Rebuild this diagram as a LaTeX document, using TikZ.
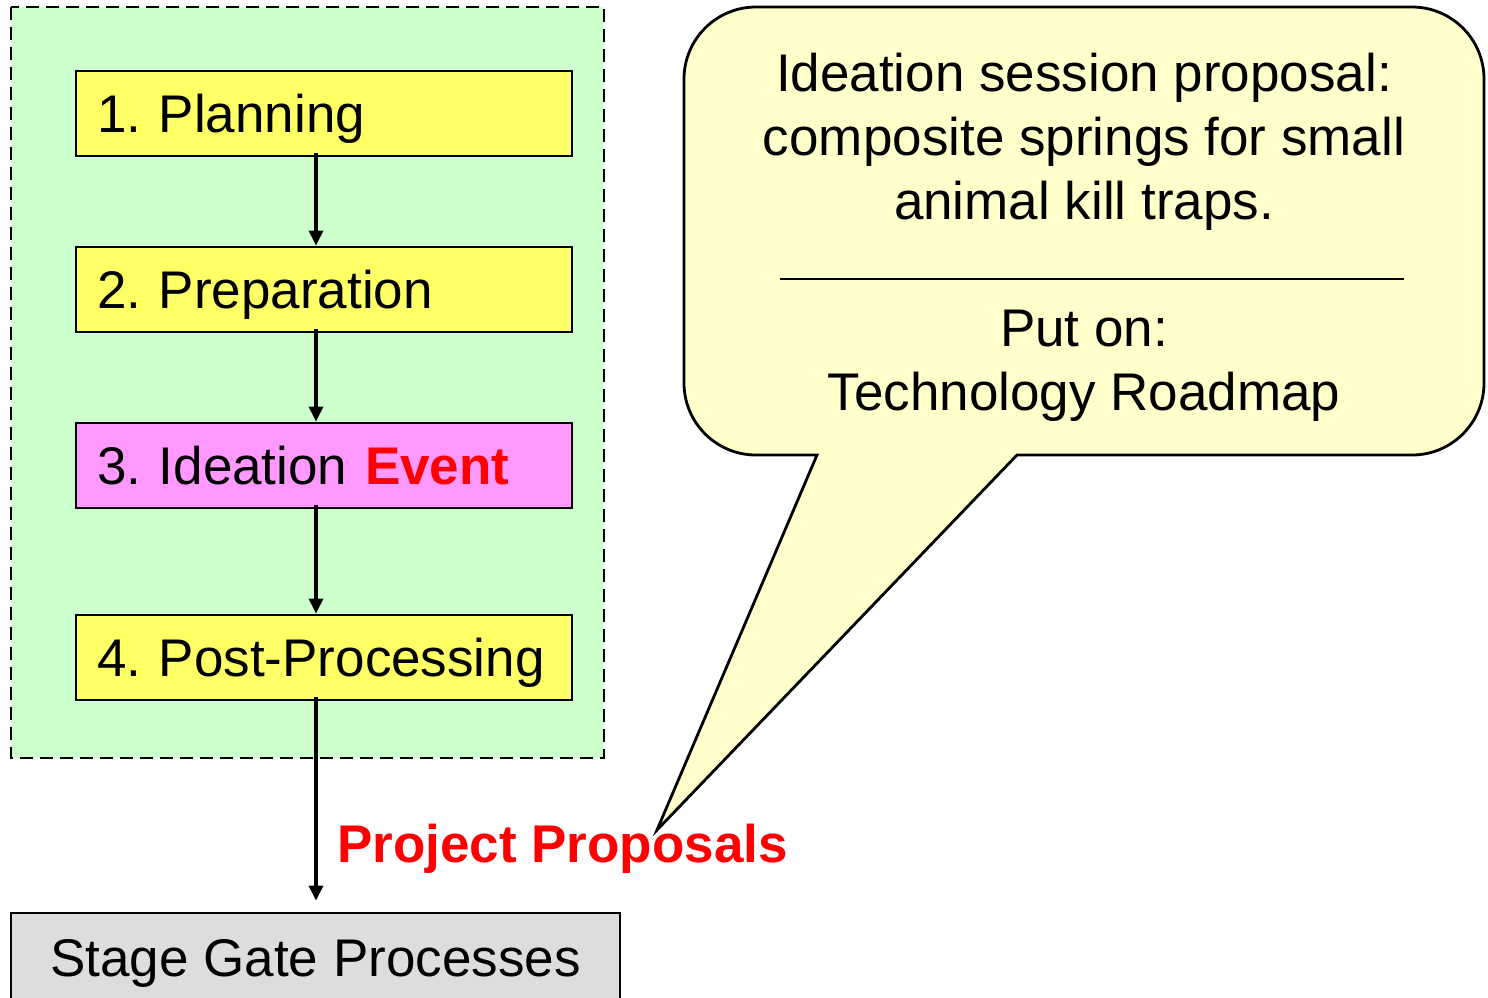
\documentclass[tikz,border=0pt]{standalone}
\usepackage{fontspec}
\setmainfont{Liberation Sans}
\usetikzlibrary{arrows.meta}
\frenchspacing

\definecolor{zonegreen}{HTML}{CCFFCC}
\definecolor{stepyellow}{HTML}{FFFF66}
\definecolor{steppink}{HTML}{FF99FF}
\definecolor{gatebg}{HTML}{DDDDDD}
\definecolor{notebg}{HTML}{FFFFCC}
\definecolor{hotred}{HTML}{FF0000}

\tikzset{
  big/.style={font=\fontsize{53}{63.6}\selectfont},
  stepbox/.style={big, draw=black, line width=2.8pt, minimum width=496pt,
    minimum height=85pt, inner xsep=21pt, inner ysep=0pt,
    text width=454pt, align=left, text height=38pt, text depth=0pt},
  flow/.style={line width=3.2pt, -{Triangle[width=14pt,length=15pt]}},
}

\begin{document}
\begin{tikzpicture}[x=1pt,y=-1pt]
  \useasboundingbox (0,0) rectangle (1488,997);
  \clip (0,0) rectangle (1488,997);

  % process zone
  \draw[fill=zonegreen, line width=2.2pt, dash pattern=on 13pt off 7pt]
    (11,7) rectangle (604,758);

  % process steps
  \node[stepbox, fill=stepyellow] (s1) at (324,113.5) {1. Planning};
  \node[stepbox, fill=stepyellow] (s2) at (324,289.5) {2. Preparation};
  \node[stepbox, fill=steppink]   (s3) at (324,465.5) {3. Ideation \textcolor{hotred}{\textbf{Event}}};
  \node[stepbox, fill=stepyellow] (s4) at (324,657.5) {4. Post-Processing};

  % downstream process
  \node[big, draw=black, line width=2.8pt, fill=gatebg, minimum width=609pt,
        minimum height=88pt, inner sep=0pt, text height=38pt, text depth=0pt]
        (sg) at (315.5,957) {Stage Gate Processes};

  % flow spine
  \coordinate (spine) at (316,0);
  \draw[flow, shorten <=-4pt] (s1.south -| spine) -- (s2.north -| spine);
  \draw[flow, shorten <=-4pt] (s2.south -| spine) -- (s3.north -| spine);
  \draw[flow, shorten <=-4pt] (s3.south -| spine) -- (s4.north -| spine);
  \draw[flow, shorten <=-4pt, shorten >=11pt] (s4.south -| spine) -- (sg.north -| spine);

  \node[font=\fontsize{53}{63.6}\selectfont\bfseries, text=hotred, anchor=west,
        inner sep=0pt, text height=38pt, text depth=0pt] (pp) at (337,843)
        {Project Proposals};

  % speech balloon
  \draw[fill=notebg, line width=2.8pt, line join=miter]
    (817,455) -- (657,830) -- (1017,455) -- (1412,455)
    arc[start angle=90, end angle=0, radius=72] -- (1484,79)
    arc[start angle=0, end angle=-90, radius=72] -- (756,7)
    arc[start angle=-90, end angle=-180, radius=72] -- (684,383)
    arc[start angle=180, end angle=90, radius=72] -- cycle;

  % balloon text (base anchor sits on the last line)
  \node[big, align=center, anchor=base, inner sep=0pt] (note1) at (1084,219)
    {Ideation session proposal:\\composite springs for small\\animal kill traps.};
  \coordinate (ruleL) at (780,279);
  \coordinate (ruleR) at (1404,279);
  \draw[line width=2.2pt] (ruleL) -- (ruleR);
  \node[big, align=center, anchor=base, inner sep=0pt] (note2) at (1084,410)
    {Put on:\\Technology Roadmap};
\end{tikzpicture}
\end{document}
